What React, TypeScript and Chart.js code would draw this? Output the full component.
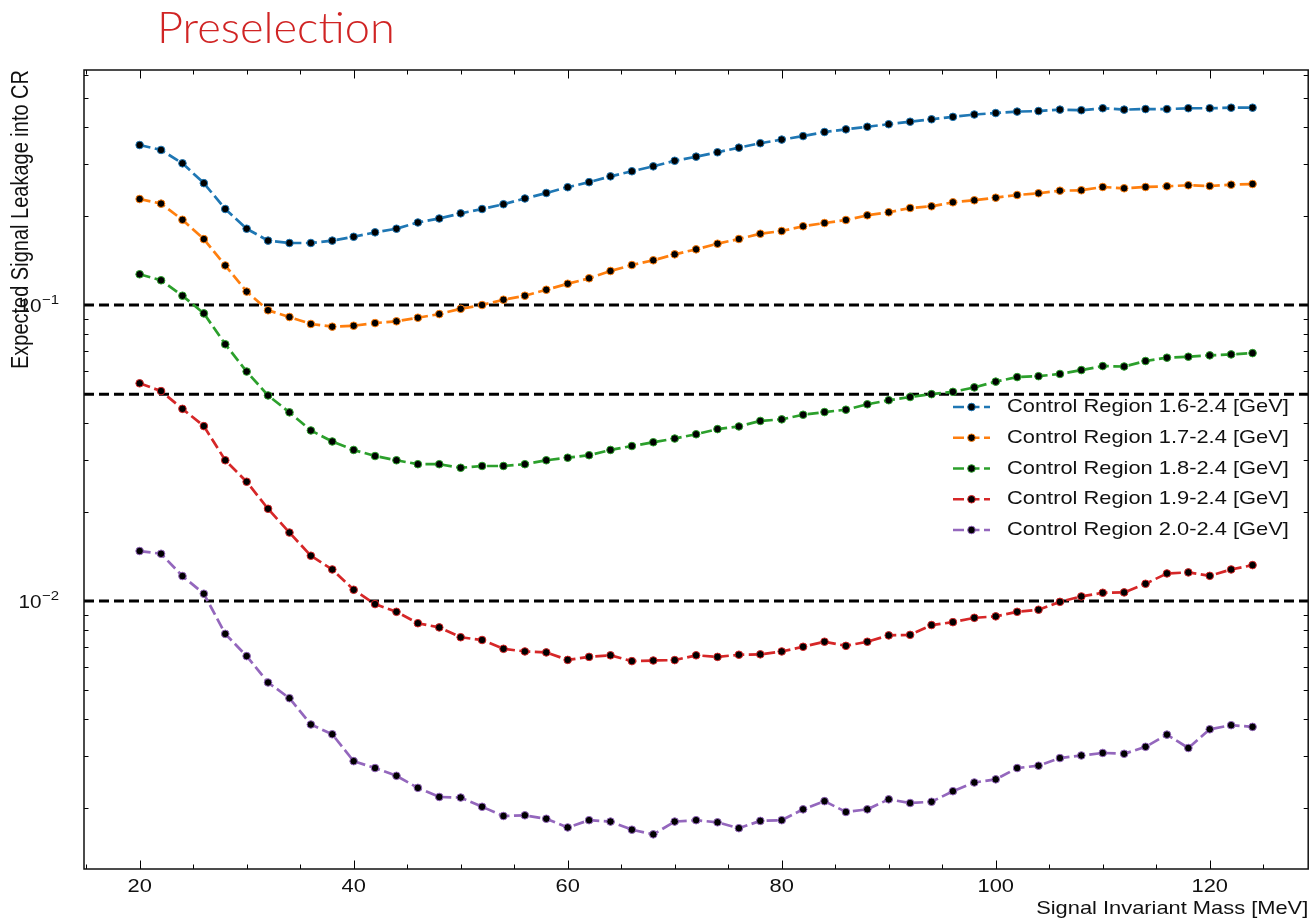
import React, { useEffect, useRef } from 'react';
import { Chart, registerables } from 'chart.js';

Chart.register(...registerables);

// Signal invariant mass points [MeV]
const massPoints = [
  20, 22, 24, 26, 28, 30, 32, 34, 36, 38,
  40, 42, 44, 46, 48, 50, 52, 54, 56, 58,
  60, 62, 64, 66, 68, 70, 72, 74, 76, 78,
  80, 82, 84, 86, 88, 90, 92, 94, 96, 98,
  100, 102, 104, 106, 108, 110, 112, 114, 116, 118,
  120, 122, 124,
];

// Expected signal leakage into each control region
const leakageCR16 = [
  0.347, 0.334, 0.301, 0.258, 0.211, 0.181, 0.165, 0.162, 0.162, 0.165,
  0.170, 0.176, 0.181, 0.190, 0.196, 0.204, 0.211, 0.219, 0.229, 0.239,
  0.250, 0.260, 0.272, 0.283, 0.294, 0.307, 0.317, 0.328, 0.340, 0.352,
  0.362, 0.372, 0.384, 0.392, 0.400, 0.408, 0.416, 0.424, 0.432, 0.440,
  0.445, 0.450, 0.452, 0.457, 0.455, 0.462, 0.457, 0.459, 0.459, 0.462,
  0.462, 0.464, 0.464,
];
const leakageCR17 = [
  0.228, 0.220, 0.194, 0.167, 0.136, 0.111, 0.0960, 0.0911, 0.0863, 0.0845,
  0.0851, 0.0869, 0.0881, 0.0906, 0.0932, 0.0971, 0.1000, 0.1042, 0.1075, 0.1126,
  0.1180, 0.1231, 0.1303, 0.1365, 0.1416, 0.1483, 0.1542, 0.1611, 0.1671, 0.1741,
  0.1778, 0.1845, 0.1892, 0.1937, 0.2009, 0.2057, 0.2127, 0.2155, 0.2223, 0.2258,
  0.2304, 0.2353, 0.2385, 0.2433, 0.2441, 0.2504, 0.2479, 0.2504, 0.2518, 0.2538,
  0.2524, 0.2549, 0.2563,
];
const leakageCR18 = [
  0.1270, 0.1212, 0.1075, 0.0937, 0.0737, 0.0596, 0.0495, 0.0434, 0.0377, 0.0346,
  0.0324, 0.0309, 0.0299, 0.0290, 0.0290, 0.0282, 0.0286, 0.0286, 0.0290, 0.0299,
  0.0305, 0.0311, 0.0324, 0.0334, 0.0344, 0.0354, 0.0366, 0.0381, 0.0389, 0.0406,
  0.0411, 0.0426, 0.0435, 0.0443, 0.0462, 0.0477, 0.0489, 0.0500, 0.0509, 0.0527,
  0.0551, 0.0571, 0.0575, 0.0585, 0.0603, 0.0622, 0.0620, 0.0647, 0.0664, 0.0669,
  0.0676, 0.0681, 0.0688,
];
const leakageCR19 = [
  0.0544, 0.0512, 0.0446, 0.0390, 0.0299, 0.0253, 0.0205, 0.01704, 0.01423, 0.01279,
  0.01092, 0.00977, 0.00920, 0.00842, 0.00815, 0.00755, 0.00739, 0.00690, 0.00676, 0.00671,
  0.00633, 0.00648, 0.00656, 0.00627, 0.00630, 0.00632, 0.00656, 0.00648, 0.00659, 0.00661,
  0.00676, 0.00701, 0.00729, 0.00706, 0.00729, 0.00766, 0.00769, 0.00830, 0.00849, 0.00878,
  0.00888, 0.00920, 0.00935, 0.00994, 0.01037, 0.01067, 0.01070, 0.01144, 0.01240, 0.01250,
  0.01217, 0.01279, 0.01323,
];
const leakageCR20 = [
  0.01476, 0.01445, 0.01215, 0.01059, 0.00775, 0.00652, 0.00531, 0.00470, 0.00383, 0.00355,
  0.00288, 0.00273, 0.00257, 0.00234, 0.00218, 0.00217, 0.00202, 0.00188, 0.00189, 0.00184,
  0.00172, 0.00182, 0.00180, 0.00169, 0.00163, 0.00180, 0.00182, 0.00179, 0.00171, 0.00181,
  0.00182, 0.00198, 0.00211, 0.00194, 0.00198, 0.00214, 0.00208, 0.00210, 0.00228, 0.00244,
  0.00250, 0.00273, 0.00278, 0.00295, 0.00301, 0.00307, 0.00305, 0.00322, 0.00354, 0.00319,
  0.00369, 0.00381, 0.00376,
];

const seriesValues = [leakageCR16, leakageCR17, leakageCR18, leakageCR19, leakageCR20];
const seriesLabels = [
  'Control Region 1.6-2.4 [GeV]',
  'Control Region 1.7-2.4 [GeV]',
  'Control Region 1.8-2.4 [GeV]',
  'Control Region 1.9-2.4 [GeV]',
  'Control Region 2.0-2.4 [GeV]',
];
const seriesColors = ['#1f77b4', '#ff7f0e', '#2ca02c', '#d62728', '#9467bd'];

// Reference leakage levels
const thresholds = [0.1, 0.05, 0.01];

// Axis ranges and tick labels
const xRange = [14.8, 129.2];
const yRange = [0.001245, 0.622];
const xTickValues = [20, 40, 60, 80, 100, 120];
const xTickLabels = ['20', '40', '60', '80', '100', '120'];
const yTickValues = [0.1, 0.01];
const yTickExponents = ['\u22121', '\u22122'];

const titleText = 'Preselection';
const xAxisTitle = 'Signal Invariant Mass [MeV]';
const yAxisTitle = 'Expected Signal Leakage into CR';

const FONT = '"Liberation Sans", Arial, Helvetica, sans-serif';
const TEXT_STRETCH = 1.15; // glyphs are drawn slightly wide
const LINE_DASH = [11, 4.5];

function drawText(
  ctx: CanvasRenderingContext2D,
  text: string,
  x: number,
  y: number,
  font: string,
  align: CanvasTextAlign,
  baseline: CanvasTextBaseline,
  sx: number,
) {
  ctx.save();
  ctx.translate(x, y);
  ctx.scale(sx, 1);
  ctx.font = font;
  ctx.textAlign = align;
  ctx.textBaseline = baseline;
  ctx.fillText(text, 0, 0);
  ctx.restore();
}

const decorPlugin = {
  id: 'decor',
  afterDraw(chart: any) {
    const { ctx, chartArea: a, scales } = chart;
    const xs = scales.x;
    const ys = scales.y;
    ctx.save();

    const seg = (x1: number, y1: number, x2: number, y2: number) => {
      ctx.beginPath();
      ctx.moveTo(x1, y1);
      ctx.lineTo(x2, y2);
      ctx.stroke();
    };

    // inward ticks on all four sides
    ctx.strokeStyle = '#000';
    ctx.lineWidth = 1;
    const xTick = (v: number, len: number) => {
      const px = Math.round(xs.getPixelForValue(v)) + 0.5;
      seg(px, a.bottom, px, a.bottom - len);
      seg(px, a.top, px, a.top + len);
    };
    const yTick = (v: number, len: number) => {
      const py = Math.round(ys.getPixelForValue(v)) + 0.5;
      seg(a.left, py, a.left + len, py);
      seg(a.right, py, a.right - len, py);
    };
    for (let v = 15; v <= xRange[1]; v += 5) {
      if (v >= xRange[0] && !xTickValues.includes(v)) xTick(v, 4.5);
    }
    xTickValues.forEach((v) => xTick(v, 8.5));
    for (let d = -3; d <= -1; d++) {
      for (let m = 2; m <= 9; m++) {
        const v = m * Math.pow(10, d);
        if (v > yRange[0] && v < yRange[1]) yTick(v, 4.5);
      }
    }
    yTickValues.forEach((v) => yTick(v, 8.5));

    // axes frame
    ctx.lineWidth = 1.5;
    ctx.strokeStyle = '#111';
    ctx.strokeRect(a.left, a.top, a.right - a.left, a.bottom - a.top);

    ctx.fillStyle = '#111';

    // x tick labels
    xTickValues.forEach((v, i) => {
      drawText(ctx, xTickLabels[i], xs.getPixelForValue(v), a.bottom + 18,
        `19px ${FONT}`, 'center', 'middle', TEXT_STRETCH);
    });

    // y tick labels as powers of ten
    yTickValues.forEach((v, i) => {
      const py = ys.getPixelForValue(v);
      const right = a.left - 25;
      ctx.font = `13px ${FONT}`;
      const expW = ctx.measureText(yTickExponents[i]).width * TEXT_STRETCH;
      drawText(ctx, yTickExponents[i], right, py - 1, `13px ${FONT}`, 'right', 'alphabetic', TEXT_STRETCH);
      drawText(ctx, '10', right - expW - 0.5, py + 7, `18px ${FONT}`, 'right', 'alphabetic', TEXT_STRETCH);
    });

    // axis titles
    drawText(ctx, xAxisTitle, a.right, a.bottom + 40, `19px ${FONT}`, 'right', 'middle', TEXT_STRETCH);
    ctx.save();
    ctx.translate(22, a.top);
    ctx.rotate(-Math.PI / 2);
    ctx.scale(1, TEXT_STRETCH);
    ctx.font = `20px ${FONT}`;
    ctx.textAlign = 'right';
    ctx.textBaseline = 'middle';
    ctx.fillText(yAxisTitle, 0, 0);
    ctx.restore();

    // legend
    const lx = 953;
    const ly = 407;
    const step = 30.75;
    seriesLabels.forEach((label, i) => {
      const y = ly + i * step;
      ctx.save();
      ctx.strokeStyle = seriesColors[i];
      ctx.lineWidth = 2.7;
      ctx.setLineDash(LINE_DASH);
      seg(lx, y, lx + 37, y);
      ctx.restore();
      ctx.beginPath();
      ctx.arc(lx + 18.5, y, 3.8, 0, Math.PI * 2);
      ctx.fillStyle = '#000';
      ctx.fill();
      ctx.lineWidth = 1;
      ctx.strokeStyle = seriesColors[i];
      ctx.stroke();
      ctx.fillStyle = '#111';
      drawText(ctx, label, lx + 54, y, `19px ${FONT}`, 'left', 'middle', TEXT_STRETCH);
    });

    // title
    ctx.fillStyle = '#d02424';
    drawText(ctx, titleText, 157, 43, `300 43px Lato, "Open Sans", sans-serif`, 'left', 'alphabetic', 1.05);

    ctx.restore();
  },
};

export default function App() {
  const canvasRef = useRef<HTMLCanvasElement | null>(null);

  useEffect(() => {
    const canvas = canvasRef.current;
    if (!canvas) return;

    const seriesSets = seriesValues.map((vals, i) => ({
      label: seriesLabels[i],
      data: massPoints.map((m, j) => ({ x: m, y: vals[j] })),
      borderColor: seriesColors[i],
      backgroundColor: seriesColors[i],
      borderWidth: 2.7,
      borderDash: LINE_DASH,
      pointRadius: 3.8,
      pointHoverRadius: 3.8,
      pointBackgroundColor: '#000',
      pointBorderColor: seriesColors[i],
      pointBorderWidth: 1,
      tension: 0,
      fill: false,
    }));

    const thresholdSets = thresholds.map((t) => ({
      label: `threshold ${t}`,
      data: [
        { x: xRange[0], y: t },
        { x: xRange[1], y: t },
      ],
      borderColor: '#000',
      borderWidth: 3,
      borderDash: [10, 5],
      pointRadius: 0,
      tension: 0,
      fill: false,
    }));

    const chart = new Chart(canvas, {
      type: 'line',
      data: { datasets: [...seriesSets, ...thresholdSets] as any },
      options: {
        responsive: false,
        animation: false,
        devicePixelRatio: 1,
        layout: { padding: { left: 84, top: 70, right: 4, bottom: 50 } },
        plugins: {
          legend: { display: false },
          title: { display: false },
          tooltip: { enabled: false },
        },
        scales: {
          x: { type: 'linear', min: xRange[0], max: xRange[1], display: false },
          y: { type: 'logarithmic', min: yRange[0], max: yRange[1], display: false },
        },
      },
      plugins: [decorPlugin],
    });

    return () => chart.destroy();
  }, []);

  return (
    <div style={{ position: 'absolute', left: 0, top: 0, width: 1313, height: 919, background: '#fff' }}>
      <canvas ref={canvasRef} width={1313} height={919} />
    </div>
  );
}
